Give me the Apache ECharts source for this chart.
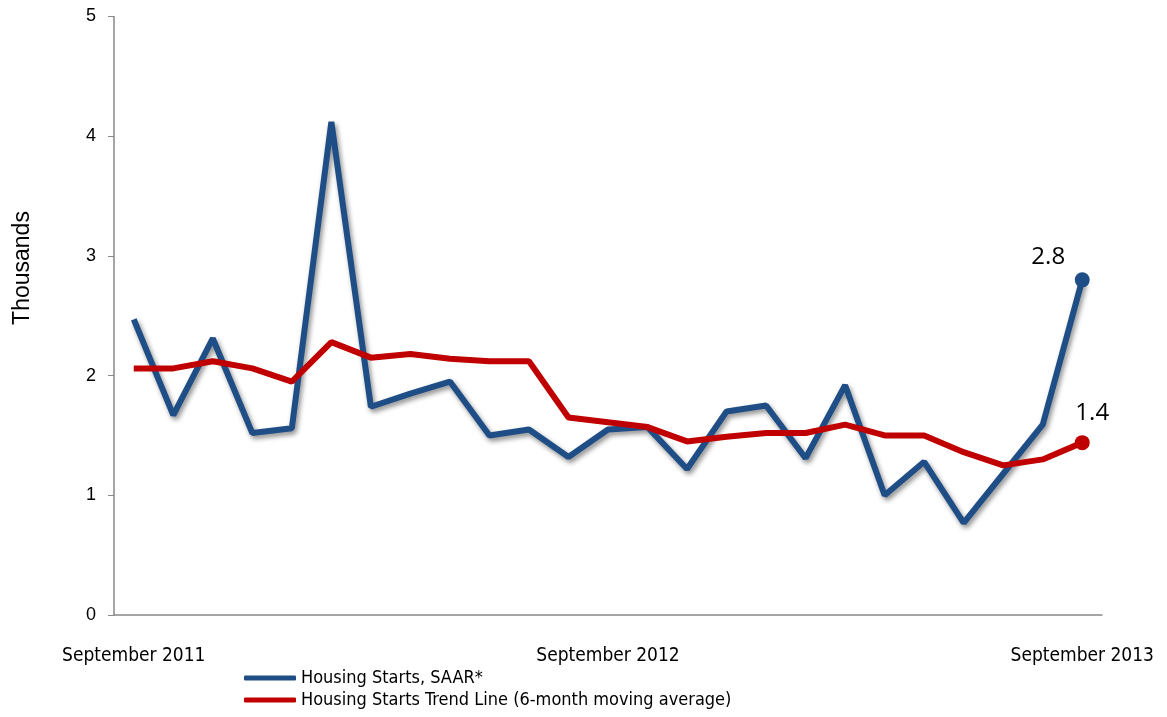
<!DOCTYPE html>
<html>
<head>
<meta charset="utf-8">
<script src="https://cdn.jsdelivr.net/npm/echarts@6/dist/echarts.min.js"></script>
<style>html,body{margin:0;padding:0;background:#fff}#c{width:1167px;height:717px}</style>
</head>
<body>
<div id="c"></div>
<script>
var categories = ['September 2011','Oct 2011','Nov 2011','Dec 2011','Jan 2012','Feb 2012','Mar 2012','Apr 2012','May 2012','Jun 2012','Jul 2012','Aug 2012','September 2012','Oct 2012','Nov 2012','Dec 2012','Jan 2013','Feb 2013','Mar 2013','Apr 2013','May 2013','Jun 2013','Jul 2013','Aug 2013','September 2013'];
var housingStarts = [2.47,1.67,2.31,1.52,1.56,4.12,1.74,1.85,1.95,1.50,1.55,1.32,1.55,1.57,1.22,1.70,1.75,1.31,1.92,1.00,1.28,0.77,1.18,1.59,2.80];
var trendLine = [2.06,2.06,2.12,2.06,1.95,2.28,2.15,2.18,2.14,2.12,2.12,1.65,1.61,1.57,1.45,1.49,1.52,1.52,1.59,1.50,1.50,1.36,1.25,1.30,1.44];
var yTicks = [0,1,2,3,4,5];

var last = categories.length - 1;
var chart = echarts.init(document.getElementById('c'));
var narrow = '"DejaVu Sans Condensed", "Liberation Sans Narrow", "Liberation Sans", sans-serif';
var arial = '"Liberation Sans", Arial, sans-serif';
function endLabel(offset) {
  return {
    show: true,
    formatter: function (p) { return p.dataIndex === last ? p.value.toFixed(1) : ''; },
    position: 'top',
    offset: offset,
    fontSize: 24,
    color: '#000',
    fontFamily: '"Open Sans", "Noto Sans", sans-serif'
  };
}
chart.setOption({
  animation: false,
  grid: { left: 114, right: 65, top: 16.5, bottom: 102 },
  graphic: [{
    type: 'text', x: 23, y: 268, rotation: Math.PI / 2,
    style: { text: 'Thousands', fontFamily: arial, fontSize: 23, fill: '#000', align: 'center', verticalAlign: 'middle' }
  }],
  legend: {
    orient: 'vertical', left: 239, top: 664, itemGap: 4,
    icon: 'roundRect', itemWidth: 52, itemHeight: 5,
    textStyle: { fontFamily: narrow, fontSize: 18, color: '#000' },
    data: ['Housing Starts, SAAR*', 'Housing Starts Trend Line (6-month moving average)']
  },
  xAxis: {
    type: 'category', data: categories, boundaryGap: true,
    axisLine: { lineStyle: { color: '#888', width: 1.5 } },
    axisTick: { show: false },
    axisLabel: { interval: 11, margin: 32, fontFamily: narrow, fontSize: 19, color: '#000' }
  },
  yAxis: {
    type: 'value', min: yTicks[0], max: yTicks[yTicks.length - 1], interval: 1,
    axisLine: { show: true, lineStyle: { color: '#888', width: 1.5 } },
    axisTick: { show: true, length: 6, lineStyle: { color: '#888' } },
    splitLine: { show: false },
    axisLabel: { margin: 18, fontFamily: arial, fontSize: 18, color: '#000' }
  },
  series: [
    {
      name: 'Housing Starts, SAAR*', type: 'line', data: housingStarts,
      symbol: 'circle', showAllSymbol: true,
      symbolSize: function (v, p) { return p.dataIndex === last ? 15 : 0; },
      itemStyle: { color: '#1F4E86' },
      lineStyle: { color: '#1F4E86', width: 6, shadowColor: 'rgba(0,0,0,0.45)', shadowBlur: 5, shadowOffsetX: 2, shadowOffsetY: 3 },
      label: endLabel([-34, 2]),
      z: 2
    },
    {
      name: 'Housing Starts Trend Line (6-month moving average)', type: 'line', data: trendLine,
      symbol: 'circle', showAllSymbol: true,
      symbolSize: function (v, p) { return p.dataIndex === last ? 15 : 0; },
      itemStyle: { color: '#C00000' },
      lineStyle: { color: '#C00000', width: 6 },
      label: endLabel([10, -5]),
      z: 3
    }
  ]
});
</script>
</body>
</html>
